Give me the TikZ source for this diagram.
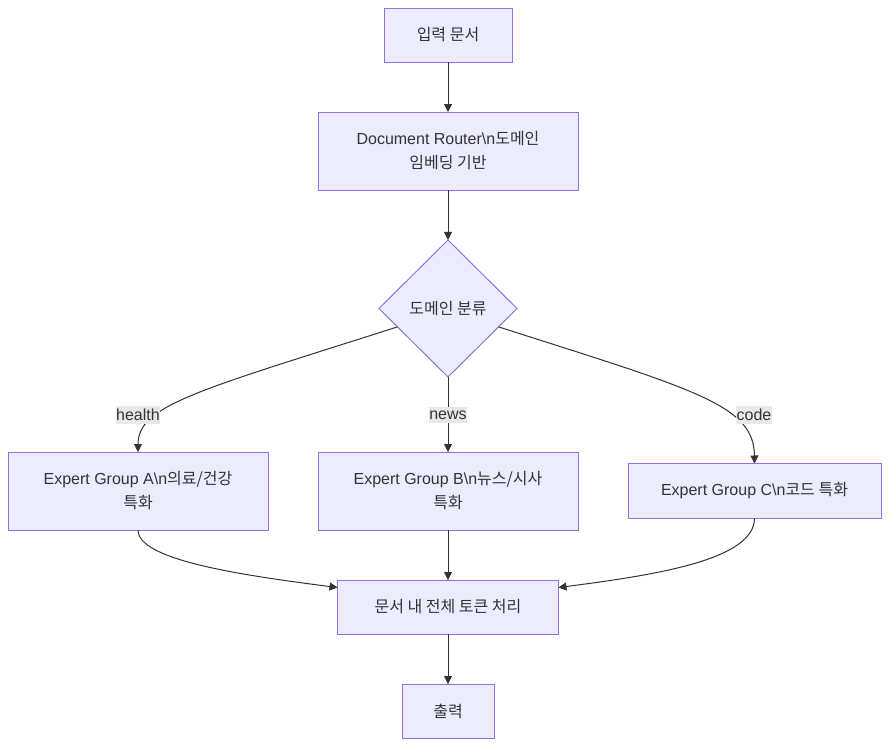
\documentclass[tikz,border=0pt]{standalone}
\usepackage{fontspec}
\setmainfont{Liberation Sans}
\newfontfamily\kr{Noto Sans CJK KR}
\usetikzlibrary{positioning, shapes.geometric, arrows.meta}

\definecolor{boxfill}{HTML}{ECECFF}
\definecolor{boxline}{HTML}{9370DB}
\definecolor{ink}{HTML}{333333}
\definecolor{tagfill}{HTML}{E8E8E8}

\begin{document}
\begin{tikzpicture}[
    x=0.75pt, y=-0.75pt,
    >={Triangle[length=6pt, width=6pt]},
    font=\fontsize{12}{18}\selectfont,
    node distance=37.5pt and 37.5pt,
    arrow/.style={
        ->,
        draw=ink,
        line width=0.75pt
    },
    box/.style={
        rectangle,
        fill=boxfill,
        draw=boxline,
        line width=0.75pt,
        text=ink,
        align=center,
        inner sep=0pt,
        outer sep=0pt
    },
    choice/.style={
        diamond,
        fill=boxfill,
        draw=boxline,
        line width=0.75pt,
        text=ink,
        inner sep=0pt,
        outer sep=0pt,
        minimum width=103.5pt,
        minimum height=102.75pt
    },
    tag/.style={
        fill=tagfill,
        text=ink,
        inner xsep=0.5pt,
        inner ysep=2.5pt
    }
]
    \useasboundingbox (0,0) rectangle (889,746);

    % Input
    \node[box, minimum width=96pt, minimum height=40.5pt] (in) at (448,35) {\kr 입력 문서};

    % Router
    \node[box, below=of in, minimum width=195pt, minimum height=58.5pt] (router)
        {Document Router\textbackslash n{\kr 도메인}\\{\kr 임베딩 기반}};
    \draw[arrow] (in) -- (router);

    % Domain decision
    \node[choice, below=of router] (dom) {\kr 도메인 분류};
    \draw[arrow] (router) -- (dom);

    % Expert groups
    \node[box, below=56.25pt of dom, minimum width=195pt, minimum height=58.5pt] (grpB)
        {Expert Group B\textbackslash n{\kr 뉴스/시사}\\{\kr 특화}};
    \node[box, left=of grpB, minimum width=195pt, minimum height=58.5pt] (grpA)
        {Expert Group A\textbackslash n{\kr 의료/건강}\\{\kr 특화}};
    \node[box, right=of grpB, minimum width=189.75pt, minimum height=41.25pt] (grpC)
        {Expert Group C\textbackslash n{\kr 코드 특화}};

    \draw[arrow] (dom.200) .. controls (200,390) and (138,405) .. (grpA.north);
    \draw[arrow] (dom.south) -- (grpB);
    \draw[arrow] (dom.340) .. controls (696,390) and (754,405) .. (grpC.north);

    % Edge labels
    \node[tag] (tagA) at (138,415) {health};
    \node[tag] (tagB) at (448,415) {news};
    \node[tag] (tagC) at (754,415) {code};

    % Token processing
    \node[box, below=of grpB, minimum width=165.75pt, minimum height=40.5pt] (proc)
        {\kr 문서 내 전체 토큰 처리};
    \draw[arrow] (grpA.south) .. controls (138,560) and (240,575) .. (proc.170);
    \draw[arrow] (grpB) -- (proc);
    \draw[arrow] (grpC.south) .. controls (754,560) and (655,575) .. (proc.10);

    % Output
    \node[box, below=of proc, minimum width=69pt, minimum height=40.5pt] (out) {\kr 출력};
    \draw[arrow] (proc) -- (out);

\end{tikzpicture}
\end{document}
